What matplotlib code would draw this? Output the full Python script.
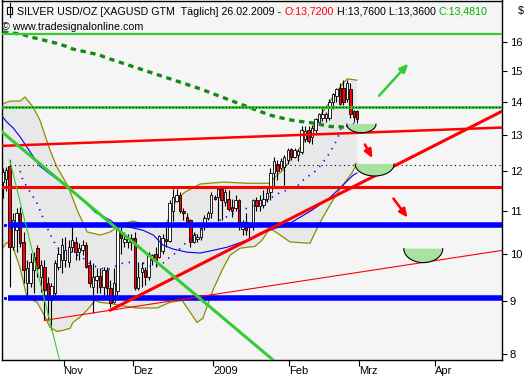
import numpy as np
import matplotlib
matplotlib.use("Agg")
import matplotlib.pyplot as plt
from matplotlib.ticker import NullLocator, FixedLocator, FixedFormatter

# daily candles, bar index 0..102 (last bar = 26.02.2009)
opens = [11.72, 11.80, 12.15, 10.14, 10.54, 10.93, 10.25, 9.37, 9.37, 9.64,
         10.12, 9.50, 9.70, 9.37, 9.02, 9.16, 9.70, 9.86, 9.86, 9.82,
         10.14, 10.25, 10.04, 10.08, 10.20, 9.75, 9.28, 9.43, 9.52, 9.28,
         9.64, 9.26, 8.98, 9.20, 10.50, 10.25, 10.26, 10.35, 10.35, 9.26,
         9.60, 9.64, 9.50, 9.86, 10.00, 9.93, 10.05, 10.33, 10.28, 11.00,
         11.25, 11.38, 10.98, 10.85, 10.77, 10.26, 10.33, 10.37, 10.70, 10.83,
         10.95, 11.35, 11.33, 11.55, 11.22, 11.30, 11.10, 11.07, 11.26, 10.56,
         10.72, 10.60, 10.60, 11.26, 11.12, 11.15, 11.28, 11.47, 11.95, 12.20,
         12.10, 12.12, 12.31, 12.62, 12.40, 12.45, 12.53, 12.90, 13.16, 12.96,
         13.16, 13.40, 13.52, 13.50, 13.50, 14.00, 14.20, 14.45, 14.45, 14.10,
         14.40, 13.72, 13.72]
highs = [12.09, 12.12, 12.31, 10.95, 11.07, 11.10, 10.50, 9.86, 10.01, 10.04,
         10.19, 9.86, 9.86, 9.49, 9.37, 9.86, 10.14, 10.35, 10.37, 10.30,
         10.70, 10.37, 10.23, 10.30, 10.25, 9.86, 9.80, 9.68, 9.68, 9.70,
         9.70, 9.43, 9.68, 10.65, 10.60, 10.50, 10.45, 10.45, 10.50, 9.82,
         9.82, 9.70, 10.04, 10.00, 10.14, 10.42, 10.45, 10.60, 11.26, 11.55,
         11.55, 11.47, 11.07, 10.95, 10.80, 10.50, 10.45, 10.60, 10.90, 11.00,
         11.47, 11.38, 11.57, 11.55, 11.55, 11.52, 11.30, 11.40, 11.30, 10.77,
         10.95, 10.72, 11.30, 11.33, 11.40, 11.52, 11.57, 12.09, 12.39, 12.31,
         12.36, 12.45, 12.65, 12.65, 12.65, 12.62, 13.28, 13.28, 13.28, 13.30,
         13.52, 13.66, 13.82, 13.70, 14.10, 14.30, 14.45, 14.60, 14.70, 14.70,
         14.62, 13.76, 13.76]
lows = [11.31, 11.50, 9.28, 10.08, 10.03, 10.14, 9.37, 9.12, 9.28, 9.16,
        9.49, 9.18, 8.63, 8.63, 8.44, 9.12, 9.64, 9.58, 9.70, 9.70,
        10.04, 9.86, 9.86, 9.97, 9.68, 9.28, 8.77, 9.16, 9.16, 9.12,
        9.08, 8.88, 8.96, 9.10, 10.00, 10.14, 10.12, 10.08, 9.22, 9.22,
        9.28, 9.33, 9.43, 9.75, 9.70, 9.90, 10.00, 10.14, 10.26, 10.75,
        11.22, 10.93, 10.77, 10.60, 10.14, 10.23, 10.26, 10.30, 10.54, 10.77,
        10.83, 11.26, 10.75, 10.77, 11.12, 11.00, 10.84, 11.00, 10.54, 10.42,
        10.42, 10.35, 10.54, 11.00, 11.00, 11.07, 11.22, 11.26, 11.60, 11.77,
        12.04, 11.64, 12.20, 12.31, 12.36, 12.28, 12.48, 12.81, 12.78, 12.76,
        13.07, 13.30, 13.43, 13.40, 13.45, 13.80, 14.00, 13.90, 13.90, 14.00,
        13.50, 13.40, 13.36]
closes = [11.99, 12.05, 10.14, 10.77, 10.95, 10.23, 9.64, 9.68, 9.82, 9.93,
          9.68, 9.75, 9.22, 9.08, 9.30, 9.80, 10.00, 10.19, 10.08, 10.14,
          10.30, 10.04, 10.12, 10.20, 9.70, 9.37, 9.50, 9.52, 9.28, 9.64,
          9.26, 8.96, 9.37, 10.54, 10.35, 10.33, 10.35, 10.25, 9.26, 9.50,
          9.68, 9.50, 10.00, 9.97, 9.86, 10.40, 10.35, 10.28, 11.20, 11.35,
          11.40, 11.00, 10.93, 10.70, 10.26, 10.42, 10.37, 10.58, 10.83, 10.95,
          11.40, 11.30, 11.55, 11.26, 11.47, 11.05, 11.00, 11.26, 10.72, 10.72,
          10.54, 10.65, 11.26, 11.12, 11.26, 11.30, 11.45, 11.95, 12.28, 12.00,
          12.28, 12.39, 12.59, 12.40, 12.59, 12.56, 13.16, 13.13, 12.84, 13.22,
          13.48, 13.62, 13.64, 13.62, 14.00, 14.25, 14.40, 13.95, 14.00, 14.60,
          13.62, 13.55, 13.481]

month_labels = ["Nov", "Dez", "2009", "Feb", "Mrz", "Apr"]
month_first_bar = [18, 38, 61, 83, 103, 125]
price_ticks = [8, 9, 10, 11, 12, 13, 14, 15, 16]

# bollinger bands (bar, price)
bb_up_x = [-0.8, 2.1, 5.0, 6.4, 8.7, 10.7, 13.6, 15.6, 18.8, 21.7, 24.3, 28.0, 30.9,
           33.7, 37.5, 41.5, 44.4, 47.3, 49.9, 52.4, 56.8, 63.4, 70.3, 76.9, 78.3,
           80.7, 82.7, 84.7, 86.4, 91.3, 95.0, 97.9, 99.1, 101.9]
bb_up_y = [13.91, 14.03, 14.03, 14.16, 13.85, 13.45, 12.58, 12.12, 11.61, 10.96, 10.49,
           10.42, 10.49, 10.65, 10.75, 10.65, 10.60, 10.72, 11.26, 11.46, 11.67, 11.72,
           11.69, 11.69, 11.85, 12.04, 12.31, 12.53, 12.78, 13.57, 14.16, 14.60, 14.74, 14.70]
bb_lo_x = [-0.8, 1.2, 3.0, 5.0, 7.0, 9.9, 11.6, 13.6, 15.6, 17.3, 19.4, 20.2, 22.2,
           24.3, 26.6, 28.0, 30.9, 34.6, 38.6, 44.4, 48.1, 51.6, 53.9, 55.9, 57.6,
           60.5, 63.4, 65.4, 68.3, 72.6, 74.6, 76.9, 79.8, 82.7, 88.4, 91.3, 95.0,
           97.6, 100.5, 101.9]
bb_lo_y = [10.05, 10.25, 10.14, 9.68, 9.07, 8.97, 8.76, 8.49, 8.41, 8.43, 8.47, 8.58,
           8.68, 8.82, 9.01, 8.97, 8.95, 8.90, 8.86, 8.86, 8.97, 9.01, 8.78, 8.58,
           8.66, 9.22, 9.68, 9.96, 10.12, 10.16, 10.30, 10.58, 10.42, 10.26, 10.23,
           10.72, 11.26, 11.61, 11.96, 12.21]

# moving averages (bar, price)
ma_x = [-0.5, 1.2, 3.0, 5.0, 7.9, 10.7, 14.5, 18.5, 22.2, 26.6, 30.9, 32.9, 36.6,
        40.4, 43.3, 46.1, 49.0, 53.0, 56.8, 60.5, 64.5, 70.3, 74.0, 76.9, 82.7,
        88.4, 93.3, 97.0, 100.8, 101.9]
ma_y = [13.61, 13.39, 13.22, 12.96, 12.53, 12.14, 11.87, 11.61, 11.34, 10.96, 10.77,
        10.65, 10.60, 10.53, 10.42, 10.19, 10.10, 10.03, 10.01, 10.07, 10.14, 10.30,
        10.46, 10.53, 10.70, 10.98, 11.26, 11.56, 11.90, 11.96]
ma_fast_x = [5.0, 5.8, 7.9, 9.9, 11.3, 12.7, 14.2, 15.6, 17.9, 19.9, 23.1, 25.7,
             30.0, 34.6, 37.5, 40.4, 43.3, 46.1, 48.1, 50.1, 51.9, 53.9, 56.8,
             58.8, 62.5, 65.4, 70.3, 76.0, 79.8, 84.7, 86.4, 90.4, 93.3, 96.2,
             97.3, 99.9, 101.6]
ma_fast_y = [12.01, 11.77, 11.46, 11.18, 10.89, 10.60, 10.35, 10.14, 10.01, 10.03,
             9.90, 9.74, 9.64, 9.79, 9.81, 9.79, 9.70, 9.79, 9.92, 10.03, 10.19,
             10.30, 10.53, 10.60, 10.77, 10.89, 11.06, 11.26, 11.45, 11.61, 11.77,
             12.04, 12.39, 12.87, 13.21, 13.30, 13.36]
ma200_x = [0.1, 2.7, 5.3, 7.9, 10.4, 12.7, 15.3, 17.9, 20.2, 22.8, 25.4, 27.7, 30.0,
           32.6, 42.4, 56.8, 68.3, 76.9, 81.2, 84.1, 86.4, 89.0, 94.2, 96.5, 98.8]
ma200_y = [16.36, 16.32, 16.29, 16.18, 16.11, 16.04, 15.96, 15.86, 15.75, 15.68, 15.61,
           15.55, 15.44, 15.34, 14.96, 14.42, 13.94, 13.60, 13.49, 13.43, 13.40, 13.37,
           13.26, 13.26, 13.23]

# horizontal levels
green_top = 16.3
green_dotted = 13.86
black_dotted = 12.17
red_level = 11.59
blue_levels = [10.65, 9.06]

# trend lines: (bar0, bar1), (price0, price1)
red_upper_x, red_upper_y = [-0.8, 143.7], [12.70, 13.23]
red_trend_x, red_trend_y = [31, 143.7], [8.82, 13.72]
red_thin_x, red_thin_y = [12, 143.7], [8.62, 10.07]
green_trend_x, green_trend_y = [-0.3, 80], [13.11, 7.78]
green_thin_x, green_thin_y = [2, 17], [12.31, 7.73]

# annotations: bowls (center bar, half width, top price, bottom price)
bowls = [(103.2, 4.2, 13.33, 13.08), (107.0, 5.6, 12.20, 11.88), (121.0, 5.6, 10.11, 9.80)]
# arrows ((bar, price) start, end, colour)
arrows = [((108.3, 14.2), (116.7, 15.25), "#33cc33"),
          ((104.2, 12.74), (106.4, 12.36), "red"),
          ((112.4, 11.30), (116.5, 10.83), "red")]

W, H = 532, 380
fig = plt.figure(figsize=(W / 100, H / 100), dpi=100)
fig.patch.set_facecolor("white")
ax = fig.add_axes([1.5 / W, 20 / H, 500.5 / W, 359.5 / H])
ax.set_facecolor("#f5f5f5")
ax.set_yscale("log")
ax.set_ylim(7.893, 17.545)
ax.set_xlim(-0.35, 143.65)

# bands
ax.fill(np.r_[bb_up_x, bb_lo_x[::-1]], np.r_[bb_up_y, bb_lo_y[::-1]],
        color="#e8e8e8", lw=0, zorder=1)
ax.plot(bb_up_x, bb_up_y, color="#8c8c00", lw=0.9, zorder=2)
ax.plot(bb_lo_x, bb_lo_y, color="#8c8c00", lw=0.9, zorder=2)

# candles
o = np.array(opens); h = np.array(highs); l = np.array(lows); c = np.array(closes)
x = np.arange(len(o))
lo_b = np.minimum(o, c)
hi_b = np.maximum(o, c)
cols = np.where(c >= o, "white", "red")
ax.vlines(x, l, h, color="black", lw=0.8, zorder=3)
ax.bar(x, np.maximum(hi_b - lo_b, 0.01), bottom=lo_b, width=0.7, color=cols,
       edgecolor="black", lw=0.6, zorder=3.2)

# averages
ax.plot(ma_x, ma_y, color="#0000ff", lw=0.8, zorder=4)
ax.plot(ma_fast_x, ma_fast_y, color="#0000ff", lw=1.2, ls=(0, (0.8, 3.5)), zorder=4)
ax.plot(ma200_x, ma200_y, color="#138a13", lw=2.4, ls=(0, (1.6, 1.4)), zorder=4)

# levels
ax.axhline(green_top, color="#33cc33", lw=1.6, zorder=5)
ax.axhline(green_dotted, color="#33cc33", lw=2.0, zorder=5)
ax.axhline(green_dotted, color="black", lw=0.8, ls=(0, (1, 2)), zorder=5.1)
ax.hlines(black_dotted, 2, 143.65, color="black", lw=0.8, ls=(0, (1, 3)), zorder=5)
ax.axhline(red_level, color="red", lw=2.2, zorder=5)
for lev in blue_levels:
    ax.hlines(lev, 1.5, 143.65, color="#0000ff", lw=4.0, zorder=5)
    ax.plot([0.7], [lev], marker="s", ms=1.2, color="#0000ff", zorder=5)

ax.plot(red_upper_x, red_upper_y, color="red", lw=1.8, zorder=5)
ax.plot(red_trend_x, red_trend_y, color="red", lw=2.2, zorder=5)
ax.plot(red_thin_x, red_thin_y, color="red", lw=0.8, zorder=5)
ax.plot(green_trend_x, green_trend_y, color="#33cc33", lw=2.2, zorder=5)
ax.plot(green_thin_x, green_thin_y, color="#33cc33", lw=0.8, zorder=5)

# bowls
t = np.linspace(0, np.pi, 60)
for cx, hw, top, bot in bowls:
    bx = cx + hw * np.cos(t)
    by = np.exp(np.log(top) - (np.log(top) - np.log(bot)) * np.sin(t))
    ax.fill(bx, by, color="#a8e2a0", lw=0, zorder=6)
    ax.plot(bx, by, color="black", lw=0.8, zorder=6.1)

for start, end, col in arrows:
    ax.annotate("", xy=end, xytext=start,
                arrowprops=dict(arrowstyle="-|>,head_length=0.5,head_width=0.22",
                                color=col, lw=1.8, shrinkA=0, shrinkB=0), zorder=6)

# axes styling
for s in ax.spines.values():
    s.set_color("black")
    s.set_linewidth(1.0)
ax.yaxis.tick_right()
ax.yaxis.set_major_locator(FixedLocator(price_ticks))
ax.yaxis.set_major_formatter(FixedFormatter([str(v) for v in price_ticks]))
ax.yaxis.set_minor_locator(NullLocator())
ax.tick_params(axis="y", direction="out", length=3.5, width=0.8, pad=2,
               labelsize=8, colors="black")
ax.set_xticks([b - 0.5 for b in month_first_bar])
ax.set_xticklabels(month_labels)
ax.tick_params(axis="x", direction="out", length=4, width=0.8, pad=0.5, labelsize=8)
for lab in ax.get_xticklabels():
    lab.set_horizontalalignment("left")
for lab in ax.get_xticklabels() + ax.get_yticklabels():
    lab.set_family("Liberation Sans")

# header text
fnt = dict(family="Liberation Sans", fontsize=7.7)
def fx(px):
    return px / W
def fy(py):
    return 1 - py / H

fig.add_artist(plt.Line2D([fx(9.5), fx(9.5)], [fy(3), fy(17)], color="black", lw=0.8))
fig.add_artist(plt.Rectangle((fx(7), fy(13.5)), 5 / W, 7 / H, facecolor="white",
                             edgecolor="black", lw=0.8))
fmt = lambda v: f"{v:.4f}".replace(".", ",")
t1 = fig.text(fx(17), fy(15), "SILVER USD/OZ [XAGUSD GTM  Täglich] 26.02.2009 - ",
              va="baseline", **fnt)
parts = [("O:" + fmt(opens[-1]), "red"),
         (" H:" + fmt(highs[-1]) + " L:" + fmt(lows[-1]) + " ", "black"),
         ("C:" + fmt(closes[-1]), "#00b000")]
prev = t1
for s, col in parts:
    prev = ax.annotate(s, xy=(1, 0), xycoords=prev, va="bottom", ha="left",
                       color=col, annotation_clip=False, **fnt)
fig.text(fx(2), fy(30), "\u00a9 www.tradesignalonline.com", va="baseline", **fnt)
fig.text(fx(518), fy(14), "$", va="baseline", **fnt)

fig.savefig("out.png", dpi=100, facecolor="white")
